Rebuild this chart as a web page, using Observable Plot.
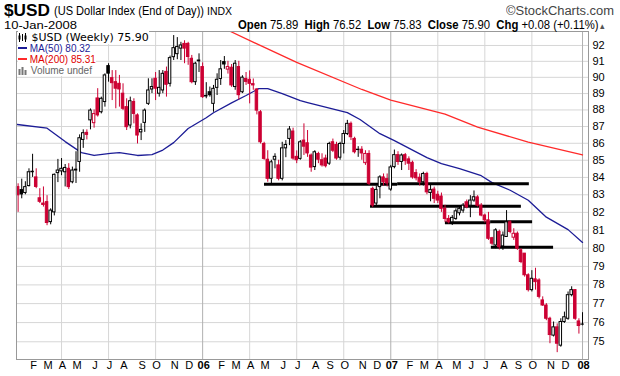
<!DOCTYPE html>
<html><head><meta charset="utf-8">
<script src="https://cdn.jsdelivr.net/npm/d3@7"></script>
<script src="https://cdn.jsdelivr.net/npm/@observablehq/plot@0.6"></script>
<style>
body{margin:0;background:#fff;}
#wrap{position:relative;width:620px;height:376px;overflow:hidden;font-family:"Liberation Sans",Arial,sans-serif;color:#000;}
.abs{position:absolute;white-space:nowrap;transform-origin:0 0;}
.leg{position:absolute;white-space:nowrap;background:#fff;line-height:11px;}
</style></head><body>
<div id="wrap"></div>
<script>
// ---- weekly OHLC, first bar = week of 2005-01-10, last = week of 2008-01-07 ----
const firstWeek = "2005-01-10";
const opens  = [83.44,83.27,83.10,83.50,84.30,84.00,82.80,82.50,82.58,81.45,82.00,84.25,84.35,84.30,84.50,83.72,84.40,84.90,86.20,86.62,87.37,87.20,88.70,87.86,88.48,90.70,
89.95,89.70,89.60,88.99,88.17,87.06,88.48,87.67,86.65,87.22,88.37,89.25,89.91,88.99,89.19,90.34,89.60,91.26,91.45,91.80,92.10,92.10,91.16,89.70,91.00,90.64,
88.82,89.08,88.37,89.35,89.90,90.95,90.48,90.60,89.40,90.64,89.08,89.90,89.85,89.58,89.25,87.86,85.96,85.03,83.92,85.03,84.70,83.92,85.70,86.26,86.70,85.20,
85.08,86.16,86.00,85.28,84.60,85.37,85.00,85.10,84.80,86.06,85.90,85.15,85.96,86.55,87.16,86.26,85.60,85.62,84.83,85.37,83.34,82.50,83.44,84.00,83.90,83.30,
84.60,85.30,84.90,85.30,85.05,84.85,84.25,83.98,83.72,84.20,83.10,83.30,83.00,82.90,82.20,81.63,81.44,81.63,81.95,82.10,82.57,82.38,82.67,82.85,82.38,81.82,
81.55,80.55,80.15,80.90,80.10,80.62,81.44,80.58,80.80,79.88,79.70,78.52,77.72,78.30,78.24,77.17,76.90,76.20,75.32,75.75,74.80,76.03,76.20,77.45,77.72,76.06,75.89];
const highs  = [83.63,83.90,83.75,84.50,85.35,84.50,83.35,83.45,82.95,82.20,84.20,85.05,85.10,84.75,84.80,84.60,85.50,86.50,86.80,86.80,88.06,88.00,89.30,88.78,90.22,90.85,
90.42,90.42,90.12,89.60,88.68,88.78,88.68,87.76,87.16,88.06,89.91,89.91,90.30,90.42,90.42,90.64,91.33,92.63,92.50,92.20,92.30,92.20,91.37,90.94,91.47,90.90,
89.67,89.40,89.50,90.22,91.05,91.30,91.00,90.80,91.05,91.00,90.10,90.30,90.40,89.90,89.30,87.96,86.06,85.56,85.00,85.38,85.00,86.06,86.16,87.00,86.90,85.55,
86.16,87.16,86.76,85.37,85.56,85.47,85.38,85.30,86.06,86.25,86.06,86.06,86.76,87.37,87.27,86.36,85.80,85.80,85.56,85.56,83.44,83.50,84.10,84.20,84.20,84.70,
85.60,85.50,85.37,85.40,85.20,84.95,84.45,84.20,84.30,84.30,83.63,83.44,83.20,83.10,82.40,81.82,81.82,82.20,82.38,82.50,82.70,82.95,83.22,82.95,82.50,81.90,
82.00,80.60,81.08,81.00,80.90,82.10,81.53,81.08,80.90,79.97,79.70,78.60,78.77,78.90,78.33,77.36,77.00,76.28,76.03,75.93,76.20,76.55,77.62,77.90,77.75,76.20,76.52];
const lows   = [82.00,82.77,83.00,83.45,84.00,83.35,82.50,82.30,81.25,81.30,81.80,83.70,84.10,83.45,83.30,83.63,83.65,84.30,85.70,86.20,86.80,86.90,87.57,87.76,88.17,89.70,
88.57,88.07,88.17,87.96,86.76,86.86,87.16,85.96,86.16,86.65,88.27,89.00,88.57,88.78,88.99,88.78,89.40,91.05,91.10,91.05,90.85,90.75,89.60,89.50,90.30,88.70,
88.68,88.78,87.86,88.88,89.50,90.50,90.20,89.38,89.20,88.60,89.00,89.50,88.37,89.20,87.70,85.96,85.00,83.72,83.63,84.50,83.80,83.80,85.15,85.86,85.00,84.80,
85.00,85.28,85.17,84.30,84.40,84.80,84.60,84.55,84.70,85.45,85.00,85.00,85.37,86.46,86.16,85.37,85.17,85.00,84.70,83.53,82.28,82.28,82.77,83.50,83.45,83.20,
84.50,84.70,84.40,84.70,84.40,83.90,83.80,83.50,83.50,83.00,82.60,82.50,82.50,82.00,81.44,81.35,81.26,81.55,81.80,81.95,82.20,81.70,82.57,82.30,81.75,81.40,
80.43,80.15,79.97,79.90,79.88,80.62,80.80,80.43,79.88,79.15,78.42,77.62,77.62,77.72,77.25,76.85,76.10,74.90,75.25,74.44,74.72,75.96,76.12,77.36,76.12,75.40,75.83];
const closes = [82.97,83.02,83.44,84.30,84.33,83.45,82.60,82.42,81.40,82.10,84.15,84.40,84.50,84.55,83.44,84.40,84.45,86.30,86.60,86.50,87.96,87.75,87.67,88.68,90.12,90.23,
89.64,89.30,89.25,88.07,86.96,88.53,87.76,86.46,86.80,87.96,89.19,89.40,89.30,89.35,90.22,89.54,91.20,91.83,91.90,92.00,91.80,91.27,89.70,90.85,91.05,88.78,
88.86,88.90,89.29,89.85,90.50,90.80,90.64,89.50,90.85,88.90,89.98,89.72,89.60,89.50,87.96,86.06,85.08,83.92,84.88,85.20,83.92,85.70,85.90,86.82,85.10,85.00,
86.06,85.80,85.40,84.57,85.47,85.03,84.70,84.65,85.96,85.56,85.10,85.96,86.55,87.16,86.36,85.47,85.62,85.40,85.37,83.63,82.39,83.28,84.00,83.72,83.65,84.58,
85.30,84.90,85.28,84.95,84.80,84.00,83.95,83.72,84.20,83.14,83.28,82.77,82.67,82.20,81.63,81.44,81.69,82.06,82.20,82.38,82.29,82.67,82.86,82.38,81.82,81.55,
80.52,80.25,80.99,80.05,80.70,81.44,80.90,80.80,79.97,79.24,78.52,77.72,78.33,78.15,77.36,76.90,76.20,75.35,75.75,74.90,76.03,76.28,77.45,77.72,76.20,75.82,75.90];

// moving averages, read at (week number counted from 2005-01-03, value)
const ma50Week  = [0.75,9,14,18.5,22,26.5,29,34,38,41,44,48,53,55,60,64,67.5,70,74,79,81,92,95.5,101,105,114,118,123,129,132,137,142,147,153,157];
const ma50Value = [87.12,86.9,86.1,85.45,85.28,85.4,85.45,85.28,85.33,85.6,86.04,86.88,87.53,87.83,88.43,88.88,89.3,89.3,89.0,88.57,88.45,87.84,87.42,86.57,86.16,85.15,84.8,84.51,84.1,83.7,83.26,82.69,81.73,81.03,80.32];
const ma200Week  = [56,59.7,78,96,104,119,128,142,157];
const ma200Value = [93.2,92.89,90.93,89.25,88.6,87.75,86.96,86.07,85.31];

// support lines drawn on the chart (start week, end week, level)
const lineStartWeek = [69.1,105.9,98.4,119.1,131.6,131.8];
const lineEndWeek   = [105.9,142.3,140.1,131.6,143.2,149.0];
const lineLevel     = [83.61,83.64,82.35,81.41,81.47,80.05];

// axis ticks
const yTicks = [75,76,77,78,79,80,81,82,83,84,85,86,87,88,89,90,91,92];
const tickDates = ["2005-02-07","2005-03-07","2005-04-04","2005-05-02","2005-06-06","2005-07-04","2005-08-01","2005-09-05","2005-10-03","2005-11-07","2005-12-05",
"2006-01-02","2006-02-06","2006-03-06","2006-04-03","2006-05-01","2006-06-05","2006-07-03","2006-08-07","2006-09-04","2006-10-02","2006-11-06","2006-12-04",
"2007-01-01","2007-02-05","2007-03-05","2007-04-02","2007-05-07","2007-06-04","2007-07-02","2007-08-06","2007-09-03","2007-10-01","2007-11-05","2007-12-03","2008-01-07"];
const tickLabels = ["F","M","A","M","J","J","A","S","O","N","D","06","F","M","A","M","J","J","A","S","O","N","D","07","F","M","A","M","J","J","A","S","O","N","D","08"];

// ---------- build ----------
const DAY = 864e5;
const base = Date.UTC(2005,0,3);
const wk = w => new Date(base + w*7*DAY);
const t0 = Date.parse(firstWeek);
const RED = "#cc0033";
const candles = opens.map((o,k)=>{
  const c = closes[k], prev = k>0 ? closes[k-1] : o;
  const col = c >= prev ? "#000" : RED;
  return {date:new Date(t0 + k*7*DAY), o, h:highs[k], l:lows[k], c, col, fill: c>=o ? "#fff" : col};
});
const ma50 = ma50Week.map((w,i)=>({date:wk(w), v:ma50Value[i]}));
const ma200 = ma200Week.map((w,i)=>({date:wk(w), v:ma200Value[i]}));
const lines = lineLevel.map((v,i)=>({x1:wk(lineStartWeek[i]), x2:wk(lineEndWeek[i]), v}));
const ticks = tickDates.map((d,i)=>({date:new Date(d), label:tickLabels[i], year: /\d/.test(tickLabels[i])}));
const quarter = ticks.filter(t=>t.year || ["04","07","10"].includes(t.date.toISOString().slice(5,7)));

const chart = Plot.plot({
  width:620, height:376,
  marginLeft:16, marginRight:32, marginTop:31, marginBottom:17,
  style:{fontFamily:"'Liberation Sans',Arial,sans-serif", fontSize:"11px", color:"#000", background:"transparent"},
  x:{type:"utc", domain:[wk(2/3.618), wk(574/3.618)], axis:null},
  y:{type:"log", domain:[74.09, 92.89], axis:null},
  color:{type:"identity"},
  marks:[
    Plot.ruleY(yTicks, {y:d=>d, stroke:"#d6d6d6", strokeWidth:1}),
    Plot.ruleX(quarter, {x:"date", stroke:d=>d.year?"#b0b0b0":"#d6d6d6", strokeWidth:1}),
    Plot.line(ma200, {x:"date", y:"v", stroke:"#ff2a2a", strokeWidth:1.3, clip:true}),
    Plot.line(ma50, {x:"date", y:"v", stroke:"#1c1c96", strokeWidth:1.3, clip:true}),
    Plot.ruleY(lines, {x1:"x1", x2:"x2", y:"v", stroke:"#000", strokeWidth:3}),
    Plot.ruleX(candles, {x:"date", y1:"l", y2:"h", stroke:"col", strokeWidth:1}),
    Plot.rect(candles, {x1:d=>new Date(+d.date-2.4*DAY), x2:d=>new Date(+d.date+2.4*DAY), y1:"o", y2:"c", fill:"fill", stroke:"col", strokeWidth:1}),
    Plot.frame({stroke:"#999"}),
    Plot.axisY(yTicks, {anchor:"right", tickSize:0, tickPadding:4, tickFormat:d=>String(d), fontSize:11}),
    Plot.text(ticks.filter(t=>!t.year), {x:"date", text:"label", frameAnchor:"bottom", dy:9, dx:1, fontSize:11}),
    Plot.text(ticks.filter(t=>t.year), {x:"date", text:"label", frameAnchor:"bottom", dy:9, dx:1, fontSize:11, fontWeight:"bold"})
  ]
});
const wrap = document.getElementById("wrap");
wrap.appendChild(chart);
chart.style.position="absolute"; chart.style.left="0"; chart.style.top="0";

const html = `
<div class="abs" data-w="46" style="left:4px;top:1px;font:bold 17px 'Liberation Sans',Arial;">$USD</div>
<div class="abs" data-w="150" style="left:54px;top:3px;font:13px 'Liberation Sans',Arial;">(US Dollar Index (End of Day))</div>
<div class="abs" data-w="25" style="left:207px;top:5px;font:11px 'Liberation Sans',Arial;">INDX</div>
<div class="abs" data-w="108" style="left:506px;top:4px;font:12px 'Liberation Sans',Arial;color:#444;">©StockCharts.com</div>
<div class="abs" data-w="73" style="left:4px;top:19px;font:11px 'Liberation Sans',Arial;">10-Jan-2008</div>
<div class="abs" data-w="368" style="left:238px;top:18px;font:12px 'Liberation Sans',Arial;"><b>Open</b> 75.89 &nbsp;<b>High</b> 76.52 &nbsp;<b>Low</b> 75.83 &nbsp;<b>Close</b> 75.90 &nbsp;<b>Chg</b> +0.08 (+0.11%)<span style="font-size:8px;color:#555">▲</span></div>
<div class="leg" style="left:18px;top:31px;font:11px 'DejaVu Sans',Verdana;"><svg width="10" height="9" style="vertical-align:-1px"><path d="M1.5 0V9M4.5 1V8M7.5 0V9" stroke="#000"/><rect x="0.5" y="2.5" width="2" height="4" fill="#000"/><rect x="6.5" y="2.5" width="2" height="4" fill="#000"/></svg> $USD (Weekly) 75.90</div>
<div class="leg" style="left:18px;top:43px;font:10px 'Liberation Sans',Arial;color:#1c1c96;"><span style="display:inline-block;width:9px;height:2px;background:#1c1c96;vertical-align:3px"></span> MA(50) 80.32</div>
<div class="leg" style="left:18px;top:54px;font:10px 'Liberation Sans',Arial;color:#e00000;"><span style="display:inline-block;width:9px;height:2px;background:#ff2a2a;vertical-align:3px"></span> MA(200) 85.31</div>
<div class="leg" style="left:18px;top:65px;font:10px 'Liberation Sans',Arial;color:#666;"><svg width="10" height="9" style="vertical-align:-1px"><path d="M1.5 3V9M4.5 1V9M7.5 4V9" stroke="#777" stroke-width="2"/></svg> Volume undef</div>`;
wrap.insertAdjacentHTML("beforeend", html);
document.querySelectorAll("[data-w]").forEach(el=>{
  const w = el.getBoundingClientRect().width;
  if (w > 0) el.style.transform = `scaleX(${(+el.dataset.w / w).toFixed(4)})`;
});
</script>
</body></html>
